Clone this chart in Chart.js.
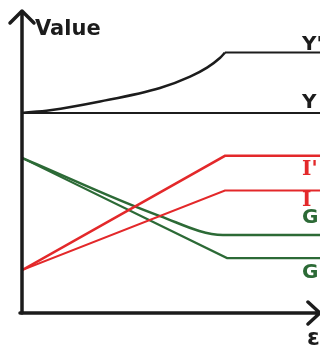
<!DOCTYPE html>
<html>
<head>
<meta charset="utf-8">
<script src="https://cdn.jsdelivr.net/npm/chart.js@4.4.1/dist/chart.umd.min.js"></script>
<style>
  body { margin: 0; background: #fff; }
  #wrap { width: 320px; height: 347px; }
</style>
</head>
<body>
<div id="wrap"><canvas id="chart" width="320" height="347"></canvas></div>
<script>
// values (x: 0..100 along the horizontal axis, y: 0..100 up the vertical axis)
const yPrimeCurveX = [0, 9.4, 26.2, 46.3, 56.4, 62.1, 66.4, 68.1];
const yPrimeCurveY = [66.7, 67.6, 70.5, 75, 78.8, 81.8, 85, 86.8];
const yPrimeFlatX = [68.1, 100];
const yPrimeFlatY = [86.8, 86.8];
const yX = [0, 100];
const yY = [66.7, 66.7];
const iPrimeX = [0, 68.1, 100];
const iPrimeY = [14.3, 52.4, 52.4];
const iX = [0, 68.1, 100];
const iY = [14.3, 40.8, 40.8];
const gPrimeX = [0, 46.3, 67.4, 100];
const gPrimeY = [51.7, 32.3, 26, 26];
const gX = [0, 68.8, 100];
const gY = [51.7, 18.3, 18.3];

const lineLabels = ["Y'", "Y", "I'", "I", "G'", "G"];
const axisTitle = "Value";
const xAxisTitle = "ε";

const BLACK = "#1c1c1c";
const RED = "#e3282a";
const GREEN = "#2c6a36";

function pts(xs, ys) {
  return xs.map((x, i) => ({ x: x, y: ys[i] }));
}

// label position tweaks (pixels from the line end); the I labels use a serif-I font
const labelStyle = [
  { color: BLACK, dy: -3, font: "bold 20px 'DejaVu Sans'" },
  { color: BLACK, dy: -5, font: "bold 20px 'DejaVu Sans'" },
  { color: RED, dy: 19, font: "bold 20px 'DejaVu Serif'" },
  { color: RED, dy: 15, font: "bold 20px 'DejaVu Serif'" },
  { color: GREEN, dy: -12, font: "bold 20px 'DejaVu Sans'" },
  { color: GREEN, dy: 20, font: "bold 20px 'DejaVu Sans'" },
];
const labelEnds = [yPrimeFlatY[1], yY[1], iPrimeY[2], iY[2], gPrimeY[3], gY[2]];

const sketchAxes = {
  id: "sketchAxes",
  afterDraw(chart) {
    const ctx = chart.ctx;
    const a = chart.chartArea;
    const xs = chart.scales.x;
    const ys = chart.scales.y;
    ctx.save();
    ctx.strokeStyle = BLACK;
    ctx.lineWidth = 3.5;
    ctx.lineCap = "round";
    ctx.lineJoin = "round";
    // vertical axis + arrow
    ctx.beginPath();
    ctx.moveTo(a.left, a.bottom);
    ctx.lineTo(a.left, a.top - 2);
    ctx.moveTo(a.left - 12, a.top + 10);
    ctx.lineTo(a.left, a.top - 2);
    ctx.lineTo(a.left + 12, a.top + 10);
    ctx.stroke();
    // horizontal axis + arrow
    ctx.beginPath();
    ctx.moveTo(a.left - 2, a.bottom);
    ctx.lineTo(a.right, a.bottom);
    ctx.moveTo(a.right - 12, a.bottom - 11);
    ctx.lineTo(a.right, a.bottom);
    ctx.lineTo(a.right - 12, a.bottom + 11);
    ctx.stroke();

    ctx.font = "bold 21px 'DejaVu Sans'";
    ctx.fillStyle = BLACK;
    ctx.textBaseline = "alphabetic";
    ctx.fillText(axisTitle, a.left + 13, a.top + 22);
    ctx.font = "bold 23px 'DejaVu Sans'";
    ctx.fillText(xAxisTitle, a.right - 13, a.bottom + 32);

    const lx = xs.getPixelForValue(94);
    lineLabels.forEach((t, i) => {
      ctx.font = labelStyle[i].font;
      ctx.fillStyle = labelStyle[i].color;
      ctx.fillText(t, lx, ys.getPixelForValue(labelEnds[i]) + labelStyle[i].dy);
    });
    ctx.restore();
  }
};

new Chart(document.getElementById("chart"), {
  type: "line",
  data: {
    datasets: [
      { data: pts(yPrimeCurveX, yPrimeCurveY), borderColor: BLACK, borderWidth: 2.5, cubicInterpolationMode: "monotone" },
      { data: pts(yPrimeFlatX, yPrimeFlatY), borderColor: BLACK, borderWidth: 2 },
      { data: pts(yX, yY), borderColor: BLACK, borderWidth: 2 },
      { data: pts(iPrimeX, iPrimeY), borderColor: RED, borderWidth: 2.5 },
      { data: pts(iX, iY), borderColor: RED, borderWidth: 2 },
      { data: pts(gPrimeX, gPrimeY), borderColor: GREEN, borderWidth: 2.5, cubicInterpolationMode: "monotone" },
      { data: pts(gX, gY), borderColor: GREEN, borderWidth: 2.2 },
    ],
  },
  options: {
    responsive: false,
    animation: false,
    layout: { padding: { left: 22, right: 0, top: 13, bottom: 34 } },
    elements: { point: { radius: 0 }, line: { fill: false } },
    plugins: { legend: { display: false }, tooltip: { enabled: false } },
    scales: {
      x: { type: "linear", min: 0, max: 100, display: false },
      y: { type: "linear", min: 0, max: 100, display: false },
    },
  },
  plugins: [sketchAxes],
});
</script>
</body>
</html>
